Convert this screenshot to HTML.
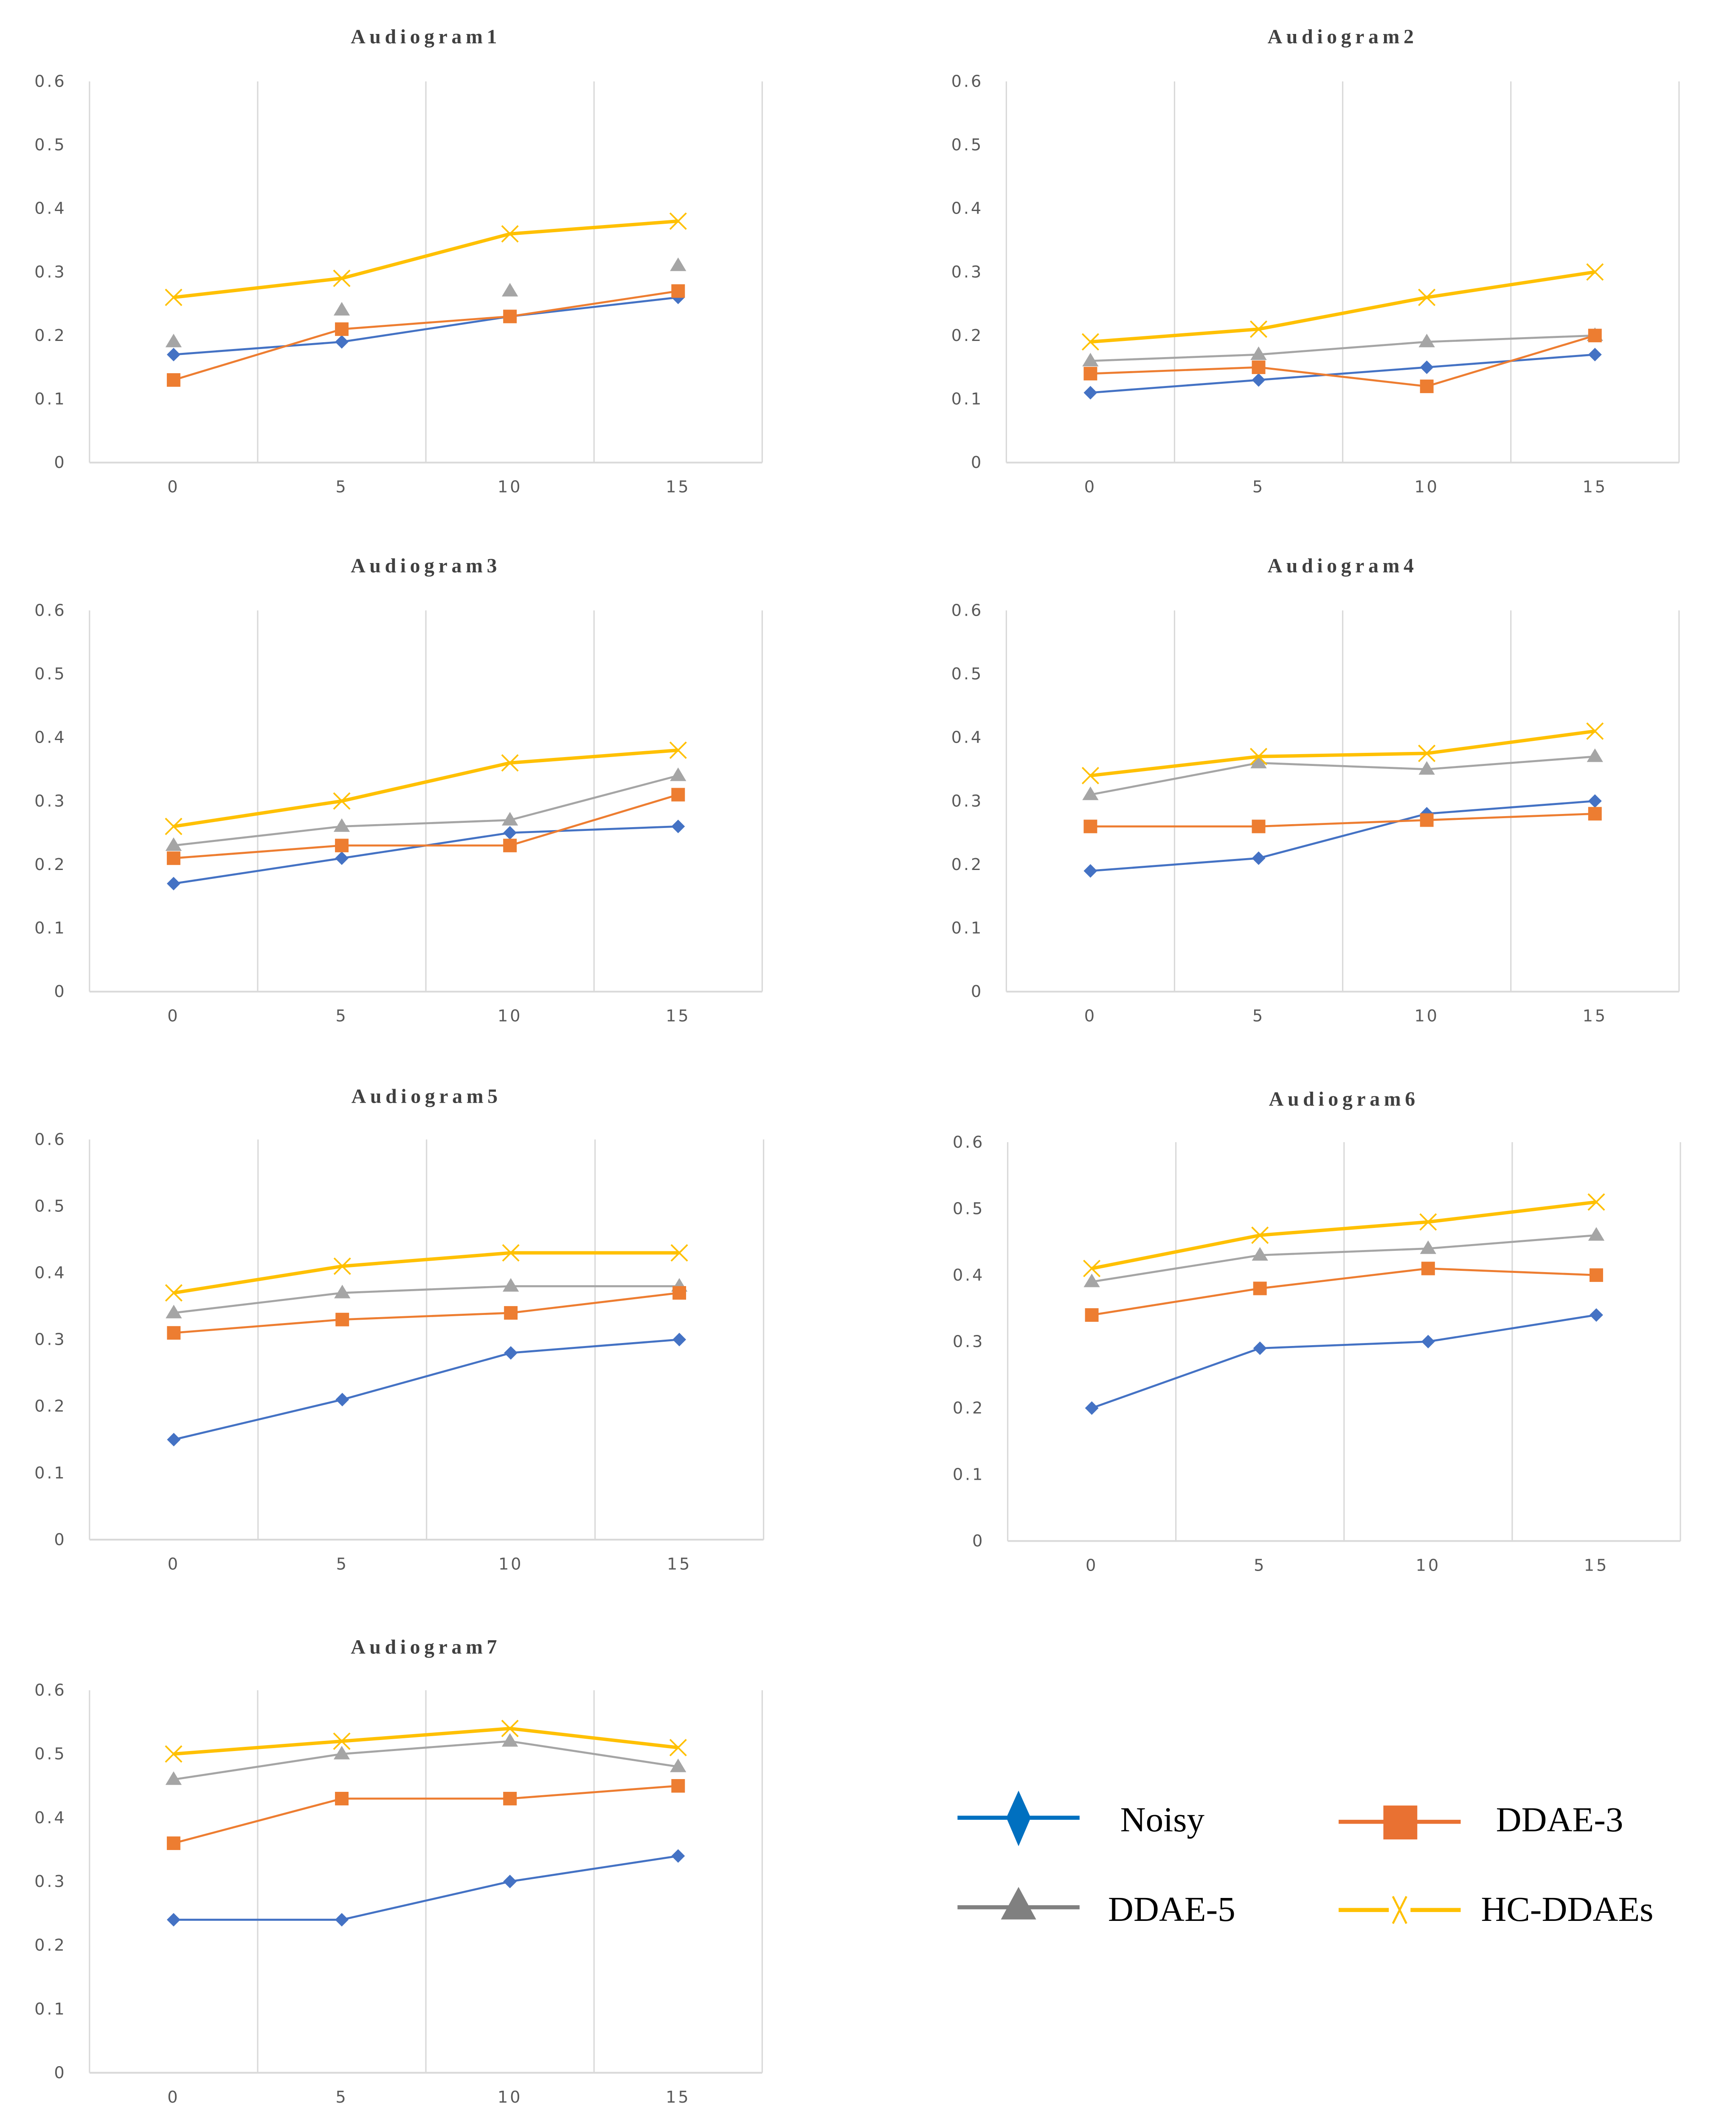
<!DOCTYPE html>
<html><head><meta charset="utf-8">
<style>
html,body{margin:0;padding:0;background:#fff;overflow:hidden;}
svg{display:block;}
.tick{font-family:"DejaVu Sans","Liberation Sans",sans-serif;font-size:12px;fill:#595959;letter-spacing:1.5px;}
.title{font-family:"Liberation Serif",serif;font-weight:bold;font-size:15px;fill:#404040;letter-spacing:3px;}
.leg{font-family:"Liberation Serif",serif;font-size:26px;fill:#000;}
</style></head>
<body>
<svg id="fig" width="4089" height="5051" viewBox="0 0 1280 1581" preserveAspectRatio="none" xmlns="http://www.w3.org/2000/svg">
<g id="legend">
 <g>
  <line x1="706" y1="1340" x2="796" y2="1340" stroke="#0070C0" stroke-width="3"/>
  <polygon points="751,1320 760,1340 751,1361 742,1340" fill="#0070C0"/>
  <text class="leg" x="826" y="1350">Noisy</text>
 </g>
 <g>
  <line x1="987" y1="1343" x2="1077" y2="1343" stroke="#E97132" stroke-width="3"/>
  <rect x="1020" y="1331" width="25" height="25" fill="#E97132"/>
  <text class="leg" x="1103" y="1350">DDAE-3</text>
 </g>
 <g>
  <line x1="706" y1="1406" x2="796" y2="1406" stroke="#808080" stroke-width="3"/>
  <polygon points="751,1391 764,1415 738,1415" fill="#808080"/>
  <text class="leg" x="817" y="1416">DDAE-5</text>
 </g>
 <g>
  <line x1="987" y1="1408" x2="1024" y2="1408" stroke="#FFC000" stroke-width="3"/>
  <line x1="1040" y1="1408" x2="1077" y2="1408" stroke="#FFC000" stroke-width="3"/>
  <path d="M1027,1398 L1037,1418 M1037,1398 L1027,1418" stroke="#FFC000" stroke-width="1.5" fill="none"/>
  <text class="leg" x="1092" y="1416">HC-DDAEs</text>
 </g>
</g>
</svg>
<script>
const categories = ["0","5","10","15"];
const yTicks = [0,0.1,0.2,0.3,0.4,0.5,0.6];
const yTickLabels = ["0","0.1","0.2","0.3","0.4","0.5","0.6"];
const chartTitles = ["Audiogram1","Audiogram2","Audiogram3","Audiogram4","Audiogram5","Audiogram6","Audiogram7"];
const noisy = [[0.17,0.19,0.23,0.26],[0.11,0.13,0.15,0.17],[0.17,0.21,0.25,0.26],[0.19,0.21,0.28,0.30],[0.15,0.21,0.28,0.30],[0.20,0.29,0.30,0.34],[0.24,0.24,0.30,0.34]];
const ddae3 = [[0.13,0.21,0.23,0.27],[0.14,0.15,0.12,0.20],[0.21,0.23,0.23,0.31],[0.26,0.26,0.27,0.28],[0.31,0.33,0.34,0.37],[0.34,0.38,0.41,0.40],[0.36,0.43,0.43,0.45]];
const ddae5 = [[0.19,0.24,0.27,0.31],[0.16,0.17,0.19,0.20],[0.23,0.26,0.27,0.34],[0.31,0.36,0.35,0.37],[0.34,0.37,0.38,0.38],[0.39,0.43,0.44,0.46],[0.46,0.50,0.52,0.48]];
const hc = [[0.26,0.29,0.36,0.38],[0.19,0.21,0.26,0.30],[0.26,0.30,0.36,0.38],[0.34,0.37,0.375,0.41],[0.37,0.41,0.43,0.43],[0.41,0.46,0.48,0.51],[0.50,0.52,0.54,0.51]];
const ddae5HasLine = [false,true,true,true,true,true,true];

const layout = [
 {x0:66,x1:562,y0:60,y1:341,ty:27},
 {x0:742,x1:1238,y0:60,y1:341,ty:27},
 {x0:66,x1:562,y0:450,y1:731,ty:417},
 {x0:742,x1:1238,y0:450,y1:731,ty:417},
 {x0:66,x1:563,y0:840,y1:1135,ty:808},
 {x0:743,x1:1239,y0:842,y1:1136,ty:810},
 {x0:66,x1:562,y0:1246,y1:1528,ty:1214}
];
const NS="http://www.w3.org/2000/svg";
const svg=document.getElementById('fig');
function mk(tag,attrs,parent){const e=document.createElementNS(NS,tag);for(const k in attrs)e.setAttribute(k,attrs[k]);parent.appendChild(e);return e;}

layout.forEach((L,ci)=>{
 const g=mk('g',{},svg);
 
 
 const band=(L.x1-L.x0)/categories.length;
 const xs=i=>L.x0+band*(i+0.5);
 const ys=v=>L.y1-(v/0.6)*(L.y1-L.y0);
 const t=mk('text',{x:(L.x0+L.x1)/2,y:L.ty+5,'text-anchor':'middle',class:'title'},g);
 t.textContent=chartTitles[ci];
 
 
 for(let i=1;i<=categories.length;i++){
  const gl=mk('line',{x1:L.x0+band*i,x2:L.x0+band*i,y1:L.y0,y2:L.y1,stroke:'#D9D9D9','stroke-width':1},g);
  
  
 }
 const ax=mk('line',{x1:L.x0,x2:L.x0,y1:L.y0,y2:L.y1,stroke:'#D9D9D9','stroke-width':1},g);
 
 
 const bx=mk('line',{x1:L.x0,x2:L.x1,y1:L.y1,y2:L.y1,stroke:'#D9D9D9','stroke-width':1.3},g);
 
 
 yTicks.forEach((v,i)=>{
  const tx=mk('text',{x:L.x0-17,y:ys(v)+4,'text-anchor':'end',class:'tick'},g);
  tx.textContent=yTickLabels[i];
  
  
 });
 categories.forEach((c,i)=>{
  const tx=mk('text',{x:xs(i),y:L.y1+22,'text-anchor':'middle',class:'tick'},g);
  tx.textContent=c;
  
  
 });
 function line(vals,color,w,name){
  const p=mk('polyline',{points:vals.map((v,i)=>xs(i)+','+ys(v)).join(' '),fill:'none',stroke:color,'stroke-width':w},g);
  
  
 }
 if(ddae5HasLine[ci]) line(ddae5[ci],'#A5A5A5',1.5,'ddae5-line');
 ddae5[ci].forEach((v,i)=>{const x=xs(i),y=ys(v);
  const m=mk('polygon',{points:`${x},${y-6} ${x+6},${y+4} ${x-6},${y+4}`,fill:'#A5A5A5'},g);
  
  });
 line(noisy[ci],'#4472C4',1.5,'noisy-line');
 noisy[ci].forEach((v,i)=>{const x=xs(i),y=ys(v);
  const m=mk('polygon',{points:`${x},${y-5} ${x+5},${y} ${x},${y+5} ${x-5},${y}`,fill:'#4472C4'},g);
  
  });
 line(ddae3[ci],'#ED7D31',1.5,'ddae3-line');
 ddae3[ci].forEach((v,i)=>{const x=xs(i),y=ys(v);
  const m=mk('rect',{x:x-5,y:y-5,width:10,height:10,fill:'#ED7D31'},g);
  
  });
 line(hc[ci],'#FFC000',2.5,'hc-ddaes-line');
 hc[ci].forEach((v,i)=>{const x=xs(i),y=ys(v);
  const m=mk('path',{d:`M${x-6},${y-6}L${x+6},${y+6}M${x+6},${y-6}L${x-6},${y+6}`,stroke:'#FFC000','stroke-width':1.2,fill:'none'},g);
  
  });
});
</script>
</body></html>
